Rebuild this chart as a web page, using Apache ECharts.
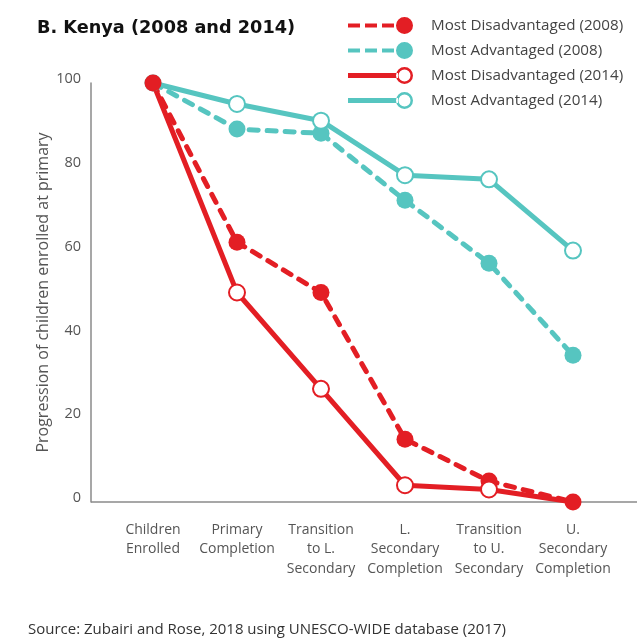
<!DOCTYPE html>
<html>
<head>
<meta charset="utf-8">
<script src="https://cdn.jsdelivr.net/npm/echarts@6/dist/echarts.min.js"></script>
<style>
  html, body { margin: 0; padding: 0; background: #fff; }
  #chart { width: 637px; height: 644px; }
</style>
</head>
<body>
<div id="chart"></div>
<script>
const categories = [
  'Children\nEnrolled',
  'Primary\nCompletion',
  'Transition\nto L.\nSecondary',
  'L.\nSecondary\nCompletion',
  'Transition\nto U.\nSecondary',
  'U.\nSecondary\nCompletion'
]
const yTicks = [0, 20, 40, 60, 80, 100]

const disadv2008 = [100, 62, 50, 15, 5, 0]
const adv2008 = [100, 89, 88, 72, 57, 35]
const disadv2014 = [100, 50, 27, 4, 3, 0]
const adv2014 = [100, 95, 91, 78, 77, 60]

const RED = '#E31E24'
const TEAL = '#56C5C0'
const AXIS = '#8a8a8a'
const TEXT = '#555555'
const FONT = 'Open Sans'

// legend icons: dashes + dot, line + ring
const ICON_DASH = 'path://M0,6.5h12v4h-12z M17,6.5h12v4h-12z M34,6.5h12v4h-12z M48,8.5a8.5,8.5 0 1,0 17,0a8.5,8.5 0 1,0 -17,0z'
const ICON_RING = 'path://M0,6h50v5h-50z M48,8.5a8.5,8.5 0 1,0 17,0a8.5,8.5 0 1,0 -17,0z M50.5,8.5a6,6 0 1,1 12,0a6,6 0 1,1 -12,0z'

const chart = echarts.init(document.getElementById('chart'))

// hollow markers hidden where the 2014 line meets a 2008 dot
const hollowData = (vals, hide) => vals.map((v, i) =>
  hide.includes(i) ? { value: v, symbol: 'none' } : v)

const dashed = (name, vals, color) => ({
  name,
  type: 'line',
  data: vals,
  symbol: 'circle',
  symbolSize: 17,
  clip: false,
  lineStyle: { color, width: 5, type: [9, 9], cap: 'round' },
  itemStyle: { color, borderWidth: 0 }
})

const solid = (name, vals, color, hide) => ({
  name,
  type: 'line',
  data: hollowData(vals, hide),
  symbol: 'emptyCircle',
  symbolSize: 16,
  clip: false,
  lineStyle: { color, width: 5 },
  itemStyle: { color, borderWidth: 2.5 }
})

const legendItem = (name, icon, color) => ({
  name, icon, itemStyle: { color, borderWidth: 0 }
})

const option = {
  backgroundColor: '#fff',
  animation: false,
  textStyle: { fontFamily: FONT },
  title: [
    {
      text: 'B. Kenya (2008 and 2014)',
      left: 32,
      top: 14,
      textStyle: { fontFamily: 'DejaVu Sans', fontSize: 17.7, fontWeight: 'bold', color: '#111' }
    },
    {
      text: 'Source: Zubairi and Rose, 2018 using UNESCO-WIDE database (2017)',
      left: 23,
      top: 617,
      textStyle: { fontFamily: FONT, fontSize: 15, fontWeight: 'normal', color: '#333' }
    }
  ],
  legend: {
    orient: 'vertical',
    left: 348,
    top: 17,
    padding: 0,
    itemWidth: 65,
    itemHeight: 17,
    itemGap: 8,
    textStyle: { fontFamily: FONT, fontSize: 15.2, color: '#444', padding: [0, 0, 0, 13] },
    data: [
      legendItem('Most Disadvantaged (2008)', ICON_DASH, RED),
      legendItem('Most Advantaged (2008)', ICON_DASH, TEAL),
      legendItem('Most Disadvantaged (2014)', ICON_RING, RED),
      legendItem('Most Advantaged (2014)', ICON_RING, TEAL)
    ]
  },
  grid: { left: 111, right: 22, top: 83, bottom: 142 },
  xAxis: {
    type: 'category',
    data: categories,
    axisLine: { show: false },
    axisTick: { show: false },
    axisLabel: { interval: 0, color: TEXT, fontSize: 14, lineHeight: 19.5, margin: 18, align: 'center' }
  },
  yAxis: {
    type: 'value',
    min: yTicks[0],
    max: yTicks[yTicks.length - 1],
    interval: 20,
    offset: 20,
    name: 'Progression of children enrolled at primary',
    nameLocation: 'middle',
    nameGap: 40,
    nameMoveOverlap: false,
    nameTextStyle: { color: TEXT, fontSize: 16 },
    axisLine: { show: true, lineStyle: { color: AXIS, width: 1.5 } },
    axisTick: { show: false },
    splitLine: { show: false },
    axisLabel: { color: TEXT, fontSize: 14.5, margin: 10, verticalAlign: 'bottom', lineHeight: 8 }
  },
  series: [
    dashed('Most Advantaged (2008)', adv2008, TEAL),
    dashed('Most Disadvantaged (2008)', disadv2008, RED),
    solid('Most Advantaged (2014)', adv2014, TEAL, [0]),
    solid('Most Disadvantaged (2014)', disadv2014, RED, [0, 5])
  ]
}

chart.setOption(option)

// baseline runs from the y axis line to the right edge
const y0 = chart.convertToPixel({ yAxisIndex: 0 }, 0)
chart.setOption({
  graphic: [{
    type: 'line',
    z: 0,
    shape: { x1: 91, y1: y0, x2: 637, y2: y0 },
    style: { stroke: AXIS, lineWidth: 1.5 }
  }]
})
</script>
</body>
</html>
